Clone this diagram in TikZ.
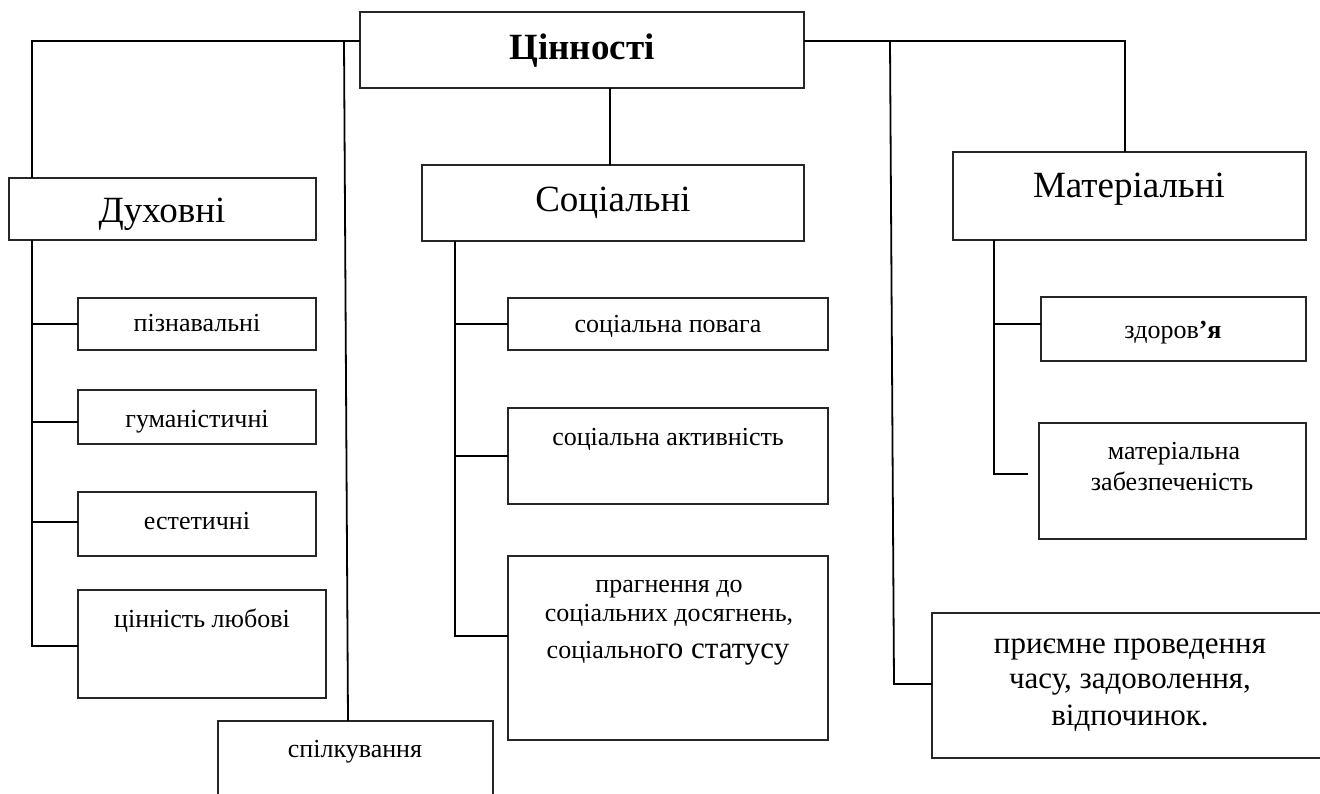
\documentclass[tikz,border=0pt]{standalone}
\usepackage{fontspec}
\setmainfont{Liberation Serif}
\usetikzlibrary{calc}
\newcommand\fsz[1]{\fontsize{#1}{#1}\selectfont}
\newcommand\bx[5]{\node[bx, minimum width={#4-#2}, minimum height={#5-#3}] (#1) at ({(#2+#4)/2},{(#3+#5)/2}) {};}
\tikzset{
  bx/.style={draw=black!85, line width=1.3pt, inner sep=0pt, outer sep=0pt, fill=white},
  conn/.style={draw=black, line width=1.8pt},
  hd/.style={anchor=base, inner sep=0pt, font=\fsz{37}},
  sm/.style={anchor=base, inner sep=0pt, font=\fsz{26}},
  md/.style={anchor=base, inner sep=0pt, font=\fsz{31}},
}
\begin{document}
\begin{tikzpicture}[x=1pt,y=-1pt]
\fill[white] (0,0) rectangle (1320,794);
\useasboundingbox (0,0) rectangle (1320,794);

% boxes
\bx{root}{360}{12}{804}{88}
\bx{duh}{9}{178}{316}{240}
\bx{soc}{422}{165}{804}{241}
\bx{mat}{953}{152}{1306}{240}
\bx{pizn}{78}{298}{316}{350}
\bx{hum}{78}{390}{316}{444}
\bx{est}{78}{492}{316}{556}
\bx{lub}{78}{590}{326}{698}
\bx{spil}{218}{721}{493}{802}
\bx{pov}{508}{298}{828}{350}
\bx{akt}{508}{408}{828}{504}
\bx{prag}{508}{556}{828}{740}
\bx{zd}{1041}{297}{1306}{361}
\bx{mz}{1039}{423}{1306}{539}
\bx{pri}{932}{613}{1328}{758}

% texts
\node[hd, font=\fsz{37}\bfseries] (t-root) at (582,60) {Цінності};
\node[hd] (t-duh) at (162,223) {Духовні};
\node[hd] (t-soc) at (613,212) {Соціальні};
\node[hd] (t-mat) at (1129,198) {Матеріальні};
\node[sm] (t-pizn) at (197,332) {пізнавальні};
\node[sm] (t-hum) at (197,427) {гуманістичні};
\node[sm] (t-est) at (197,529) {естетичні};
\node[sm] (t-lub) at (202,627) {цінність любові};
\node[sm] (t-spil) at (355,757) {спілкування};
\node[sm] (t-pov) at (668,333) {соціальна повага};
\node[sm] (t-akt) at (668,445) {соціальна активність};
\node[sm] (t-prag1) at (669,592) {прагнення до};
\node[sm] (t-prag2) at (669,621) {соціальних досягнень,};
\node[sm] (t-prag3) at (668,658) {соціально{\fsz{31}го статусу}};
\node[sm] (t-zd) at (1173,338) {здоров{\bfseries ’я}};
\node[sm] (t-mz1) at (1174,459) {матеріальна};
\node[sm] (t-mz2) at (1172,490) {забезпеченість};
\node[md] (t-pri1) at (1130,653) {приємне проведення};
\node[md] (t-pri2) at (1130,688) {часу, задоволення,};
\node[md] (t-pri3) at (1130,725) {відпочинок.};

% connectors
\coordinate (tl) at (32,41);
\coordinate (mt) at (344,41);
\coordinate (rt) at (890,41);
\coordinate (tr) at (1125,41);
\draw[conn] (root.west |- tl) -- (tl) -- (tl |- duh.north);
\draw[conn] (root.east |- tr) -- (tr) -- (tr |- mat.north);
\draw[conn] (mt) -- ($(spil.north west)+(130,0)$);
\coordinate (rb) at (894,684);
\draw[conn] (rt) -- (rb) -- (pri.west |- rb);
\coordinate (sv) at (610,88);
\draw[conn] (root.south -| sv) -- (soc.north -| sv);

\coordinate (d1) at (32,324);
\coordinate (d2) at (32,422);
\coordinate (d3) at (32,522);
\coordinate (d4) at (32,646);
\draw[conn] (tl |- duh.south) -- (d4) -- (lub.west |- d4);
\draw[conn] (d1) -- (pizn.west |- d1);
\draw[conn] (d2) -- (hum.west |- d2);
\draw[conn] (d3) -- (est.west |- d3);

\coordinate (s1) at (455,324);
\coordinate (s2) at (455,456);
\coordinate (s3) at (455,636);
\draw[conn] (soc.south -| s1) -- (s3) -- (prag.west |- s3);
\draw[conn] (s1) -- (pov.west |- s1);
\draw[conn] (s2) -- (akt.west |- s2);

\coordinate (m1) at (994,324);
\coordinate (m2) at (994,474);
\coordinate (m2e) at (1028,474);
\draw[conn] (mat.south -| m1) -- (m2) -- (m2e);
\draw[conn] (m1) -- (zd.west |- m1);
\end{tikzpicture}
\end{document}
